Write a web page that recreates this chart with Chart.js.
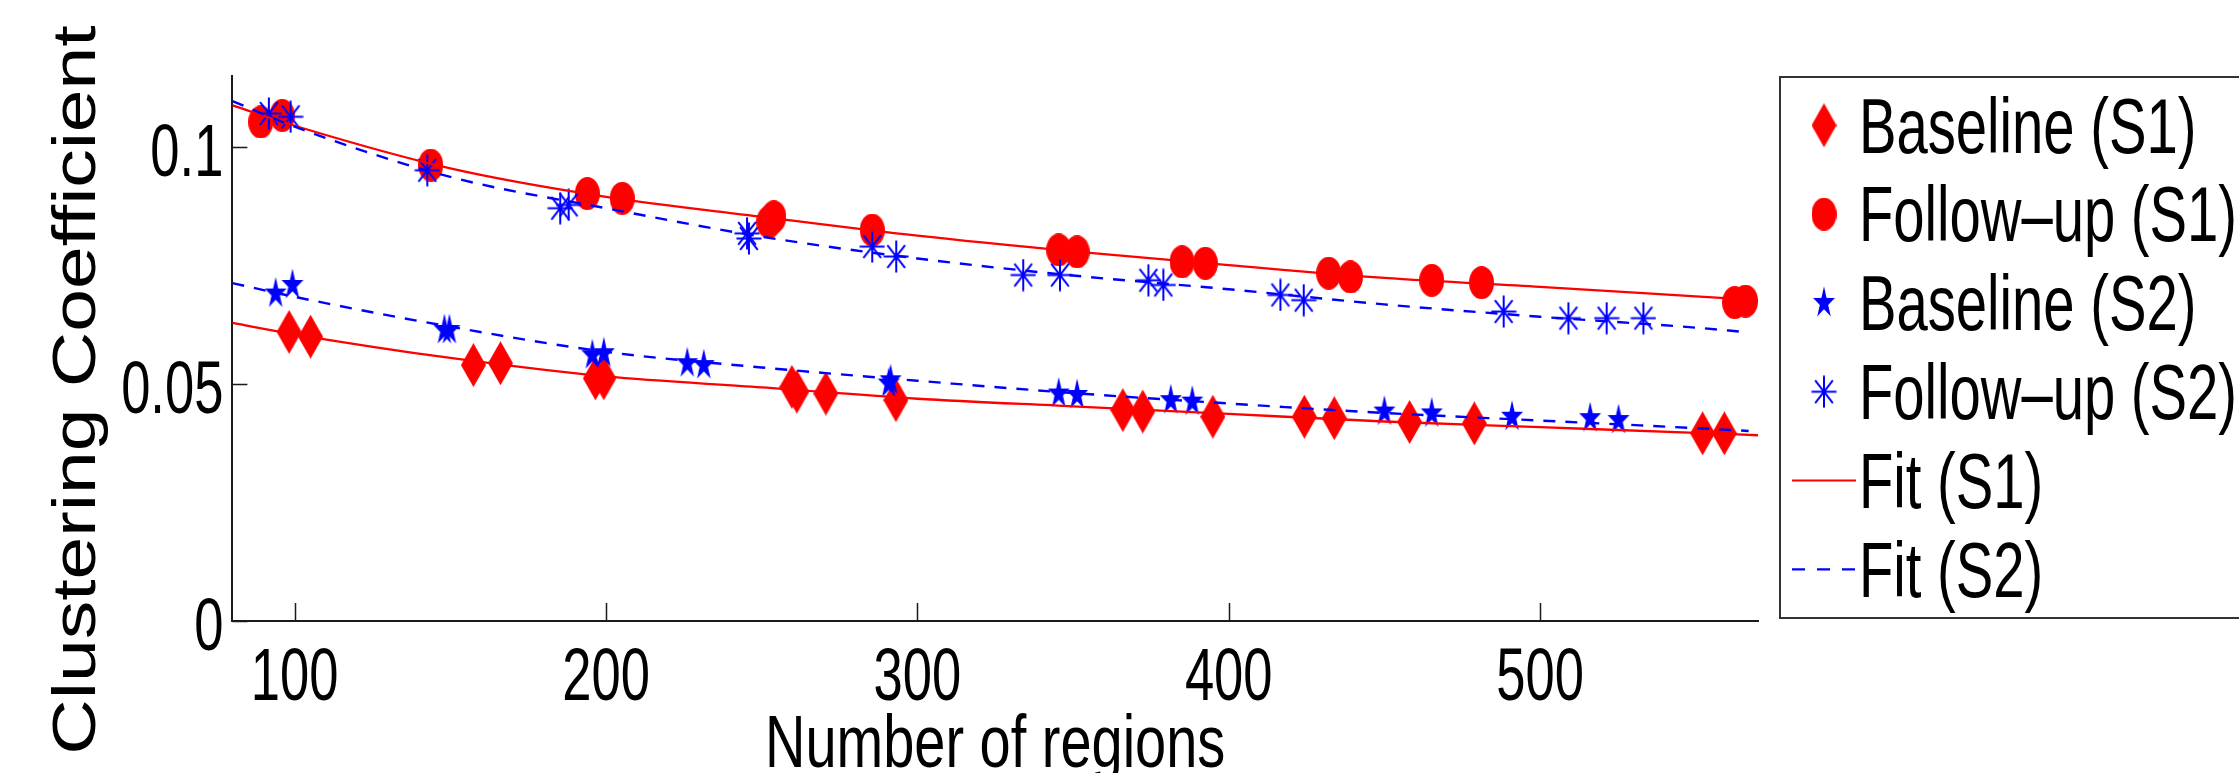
<!DOCTYPE html>
<html>
<head>
<meta charset="utf-8">
<script src="https://cdn.jsdelivr.net/npm/chart.js@4.4.1/dist/chart.umd.min.js"></script>
<style>
  html, body { margin: 0; padding: 0; background: #fff; overflow: hidden; }
  canvas { display: block; }
</style>
</head>
<body>
<canvas id="myChart" width="2239" height="773"></canvas>
<script>
// values
var baseS1X = [98.2, 105.1, 157.4, 166.1, 196.6, 199.3, 259.7, 261.3, 270.6, 293.1, 366.0, 372.4, 394.9, 424.3, 433.9, 458.1, 478.9, 552.2, 559.2];
var baseS1Y = [0.0610, 0.0600, 0.0540, 0.0544, 0.0512, 0.0512, 0.0494, 0.0484, 0.0480, 0.0466, 0.0445, 0.0442, 0.0431, 0.0431, 0.0428, 0.0420, 0.0417, 0.0396, 0.0396];

var follS1X = [89.1, 96.0, 143.7, 194.0, 205.2, 252.3, 253.9, 285.5, 345.4, 351.3, 385.0, 392.5, 432.1, 439.1, 465.2, 481.2, 562.5, 566.0];
var follS1Y = [0.1053, 0.1067, 0.0962, 0.0902, 0.0892, 0.0842, 0.0853, 0.0825, 0.0783, 0.0779, 0.0758, 0.0755, 0.0734, 0.0726, 0.0719, 0.0714, 0.0672, 0.0675];

var baseS2X = [93.9, 99.3, 148.1, 149.7, 195.6, 199.3, 226.1, 231.4, 290.8, 291.4, 345.4, 351.3, 381.4, 388.3, 450.0, 465.2, 491.0, 516.1, 525.2];
var baseS2Y = [0.0691, 0.0709, 0.0614, 0.0614, 0.0561, 0.0565, 0.0544, 0.0540, 0.0501, 0.0508, 0.0480, 0.0477, 0.0466, 0.0463, 0.0442, 0.0438, 0.0431, 0.0428, 0.0424];

var follS2X = [91.7, 98.7, 142.6, 185.3, 188.0, 245.3, 245.9, 285.5, 293.2, 334.0, 345.8, 374.2, 379.0, 416.6, 424.1, 488.3, 509.1, 521.4, 533.2];
var follS2Y = [0.1071, 0.1064, 0.0951, 0.0871, 0.0878, 0.0818, 0.0807, 0.0790, 0.0769, 0.0730, 0.0730, 0.0719, 0.0709, 0.0688, 0.0677, 0.0653, 0.0639, 0.0639, 0.0639];

// fitted curves, read at these x positions
var fitS1X = [80, 100, 150, 200, 250, 300, 350, 400, 450, 500, 550, 570];
var fitS1Upper = [0.1088, 0.1045, 0.0955, 0.0895, 0.0853, 0.0813, 0.0780, 0.0751, 0.0724, 0.0705, 0.0685, 0.0677];
var fitS1Lower = [0.0629, 0.0605, 0.0555, 0.0516, 0.0493, 0.0469, 0.0453, 0.0437, 0.0421, 0.0409, 0.0397, 0.0392];
var fitS2X = [80, 100, 150, 200, 250, 300, 350, 400, 450, 500, 550, 567];
var fitS2Upper = [0.1097, 0.1043, 0.0937, 0.0871, 0.0811, 0.0765, 0.0729, 0.0700, 0.0668, 0.0642, 0.0619, 0.0609];
var fitS2Lower = [0.0713, 0.0684, 0.0621, 0.0568, 0.0535, 0.0507, 0.0481, 0.0459, 0.0439, 0.0423, 0.0407, 0.0401];

var xTicks = [100, 200, 300, 400, 500];
var yTicks = [0, 0.05, 0.1];
var legendLabels = ['Baseline (S1)', 'Follow\u2013up (S1)', 'Baseline (S2)', 'Follow\u2013up (S2)', 'Fit (S1)', 'Fit (S2)'];

var RED = '#ff0000';
var BLUE = '#0000ff';
var SANS = "'Liberation Sans', Arial, sans-serif";

function pts(xs, ys) {
  return xs.map(function (x, i) { return {x: x, y: ys[i]}; });
}

// markers are a bit taller than wide in the picture, so draw them on small canvases
function makeMarker(w, h, draw) {
  var c = document.createElement('canvas');
  c.width = w;
  c.height = h;
  draw(c.getContext('2d'), w, h);
  return c;
}

var diamondImg = makeMarker(25, 44, function (g, w, h) {
  g.fillStyle = RED;
  g.beginPath();
  g.moveTo(w / 2, 0);
  g.lineTo(w, h / 2);
  g.lineTo(w / 2, h);
  g.lineTo(0, h / 2);
  g.closePath();
  g.fill();
});

var circleImg = makeMarker(25, 33, function (g, w, h) {
  g.fillStyle = RED;
  g.beginPath();
  g.ellipse(w / 2, h / 2, w / 2, h / 2, 0, 0, Math.PI * 2);
  g.fill();
});

var starImg = makeMarker(24, 34, function (g, w, h) {
  g.fillStyle = BLUE;
  g.translate(w / 2, h / 2);
  g.scale(0.96, 1.38);
  g.beginPath();
  for (var k = 0; k < 10; k++) {
    var r = k % 2 === 0 ? 12 : 12 * 0.382;
    var a = -Math.PI / 2 + k * Math.PI / 5;
    if (k === 0) g.moveTo(r * Math.cos(a), r * Math.sin(a));
    else g.lineTo(r * Math.cos(a), r * Math.sin(a));
  }
  g.closePath();
  g.fill();
});

var asteriskImg = makeMarker(26, 33, function (g, w, h) {
  var cx = w / 2, cy = h / 2, rx = 12.5, ry = 16;
  g.strokeStyle = BLUE;
  g.lineWidth = 2;
  g.beginPath();
  g.moveTo(cx, cy - ry); g.lineTo(cx, cy + ry);
  g.moveTo(cx - rx, cy); g.lineTo(cx + rx, cy);
  g.moveTo(cx - rx * 0.707, cy - ry * 0.707); g.lineTo(cx + rx * 0.707, cy + ry * 0.707);
  g.moveTo(cx + rx * 0.707, cy - ry * 0.707); g.lineTo(cx - rx * 0.707, cy + ry * 0.707);
  g.stroke();
});

// the lettering in the picture is tall and narrow, so squeeze it horizontally
function squeezedText(ctx, text, x, y, size, sx, sy, align, rotate) {
  ctx.save();
  ctx.translate(x, y);
  if (rotate) ctx.rotate(rotate);
  ctx.scale(sx, sy);
  ctx.font = size + 'px ' + SANS;
  ctx.fillStyle = '#000';
  ctx.textAlign = align;
  ctx.textBaseline = 'alphabetic';
  ctx.fillText(text, 0, 0);
  ctx.restore();
}

// inner tick marks, tick labels, axis titles, boxed legend
var decorPlugin = {
  id: 'decor',
  afterDraw: function (chart) {
    var ctx = chart.ctx;
    var xs = chart.scales.x, ys = chart.scales.y;
    var area = chart.chartArea;

    ctx.save();
    ctx.strokeStyle = '#1a1a1a';
    ctx.lineWidth = 1.5;
    ctx.beginPath();
    xs.ticks.forEach(function (t) {
      var px = Math.round(xs.getPixelForValue(t.value)) + 0.5;
      ctx.moveTo(px, area.bottom);
      ctx.lineTo(px, area.bottom - 18);
    });
    ys.ticks.forEach(function (t) {
      var py = Math.round(ys.getPixelForValue(t.value)) + 0.5;
      ctx.moveTo(area.left, py);
      ctx.lineTo(area.left + 15, py);
    });
    ctx.stroke();
    ctx.restore();

    // tick labels at the scale positions
    xs.ticks.forEach(function (t) {
      squeezedText(ctx, t.label, xs.getPixelForValue(t.value), area.bottom + 79, 74, 0.71, 1, 'center');
    });
    ys.ticks.forEach(function (t) {
      squeezedText(ctx, t.label, area.left - 9, ys.getPixelForValue(t.value) + 28.5, 74, 0.71, 1, 'right');
    });

    // axis titles
    squeezedText(ctx, 'Number of regions', (area.left + area.right) / 2, 767, 75, 0.746, 1, 'center');
    ctx.save();
    ctx.translate(95, 390);
    ctx.rotate(-Math.PI / 2);
    ctx.scale(1.24, 1);
    ctx.font = '62px ' + SANS;
    ctx.fillStyle = '#000';
    ctx.textAlign = 'center';
    ctx.textBaseline = 'alphabetic';
    ctx.fillText('Clustering Coefficient', 0, 0);
    ctx.restore();

    // legend
    ctx.save();
    ctx.strokeStyle = '#333';
    ctx.lineWidth = 2;
    ctx.strokeRect(1780, 77, 600, 541);
    var markers = [diamondImg, circleImg, starImg, asteriskImg];
    legendLabels.forEach(function (label, i) {
      var cy = 125.3 + 88.8 * i;
      if (i < 4) {
        var m = markers[i];
        ctx.drawImage(m, 1824 - m.width / 2, cy - m.height / 2);
      } else {
        ctx.beginPath();
        ctx.strokeStyle = i === 4 ? RED : BLUE;
        ctx.lineWidth = 2.2;
        ctx.setLineDash(i === 4 ? [] : [13, 12]);
        ctx.moveTo(1792, cy);
        ctx.lineTo(1856, cy);
        ctx.stroke();
        ctx.setLineDash([]);
      }
      squeezedText(ctx, label, 1859, 152.5 + 88.8 * i, 77, 0.73, 1, 'left');
    });
    ctx.restore();
  }
};

var ctx = document.getElementById('myChart').getContext('2d');

var myChart = new Chart(ctx, {
  type: 'scatter',
  data: {
    datasets: [
      {label: 'Fit (S2)', data: pts(fitS2X, fitS2Upper), showLine: true, borderColor: BLUE, borderDash: [12, 10],
       borderWidth: 2.4, pointRadius: 0, cubicInterpolationMode: 'monotone', order: 1},
      {label: 'Fit (S2)', data: pts(fitS2X, fitS2Lower), showLine: true, borderColor: BLUE, borderDash: [12, 10],
       borderWidth: 2.4, pointRadius: 0, cubicInterpolationMode: 'monotone', order: 1},
      {label: 'Fit (S1)', data: pts(fitS1X, fitS1Upper), showLine: true, borderColor: RED,
       borderWidth: 2.3, pointRadius: 0, cubicInterpolationMode: 'monotone', order: 2},
      {label: 'Fit (S1)', data: pts(fitS1X, fitS1Lower), showLine: true, borderColor: RED,
       borderWidth: 2.3, pointRadius: 0, cubicInterpolationMode: 'monotone', order: 2},
      {label: 'Follow-up (S2)', data: pts(follS2X, follS2Y), pointStyle: asteriskImg, pointRadius: 12, order: 3},
      {label: 'Baseline (S2)', data: pts(baseS2X, baseS2Y), pointStyle: starImg, pointRadius: 12, order: 4},
      {label: 'Follow-up (S1)', data: pts(follS1X, follS1Y), pointStyle: circleImg, pointRadius: 12, order: 5},
      {label: 'Baseline (S1)', data: pts(baseS1X, baseS1Y), pointStyle: diamondImg, pointRadius: 12, order: 6}
    ]
  },
  options: {
    responsive: false,
    animation: false,
    events: [],
    layout: {padding: {left: 0, top: 76, right: 481, bottom: 0}},
    plugins: {
      legend: {display: false},
      tooltip: {enabled: false}
    },
    scales: {
      x: {
        type: 'linear',
        min: 80,
        max: 570,
        grid: {display: false, drawTicks: false},
        border: {display: true, color: '#1a1a1a', width: 2},
        afterBuildTicks: function (s) { s.ticks = xTicks.map(function (v) { return {value: v}; }); },
        afterFit: function (s) { s.height = 152; },
        ticks: {
          display: false,
          autoSkip: false,
          callback: function (v) { return String(v); }
        }
      },
      y: {
        type: 'linear',
        min: 0,
        max: 0.115,
        grid: {display: false, drawTicks: false},
        border: {display: true, color: '#1a1a1a', width: 2},
        afterBuildTicks: function (s) { s.ticks = yTicks.map(function (v) { return {value: v}; }); },
        afterFit: function (s) { s.width = 232.4; },
        ticks: {
          display: false,
          callback: function (v) { return String(v); }
        }
      }
    }
  },
  plugins: [decorPlugin]
});
</script>
</body>
</html>
